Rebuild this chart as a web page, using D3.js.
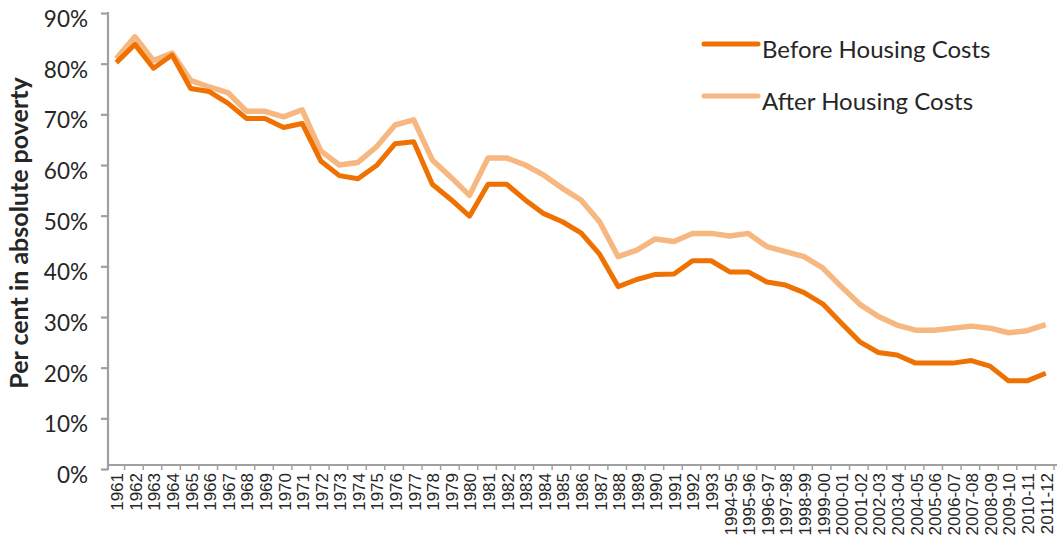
<!DOCTYPE html>
<html>
<head>
<meta charset="utf-8">
<script src="https://cdn.jsdelivr.net/npm/d3@7"></script>
<style>
  body { margin: 0; background: #fff; }
  svg text { fill: #262626; }
</style>
</head>
<body>
<div id="chart"></div>
<script>
// categories: survey years
var years = [
  "1961", "1962", "1963", "1964", "1965", "1966", "1967", "1968", "1969", "1970",
  "1971", "1972", "1973", "1974", "1975", "1976", "1977", "1978", "1979", "1980",
  "1981", "1982", "1983", "1984", "1985", "1986", "1987", "1988", "1989", "1990",
  "1991", "1992", "1993", "1994-95", "1995-96", "1996-97", "1997-98", "1998-99",
  "1999-00", "2000-01", "2001-02", "2002-03", "2003-04", "2004-05", "2005-06",
  "2006-07", "2007-08", "2008-09", "2009-10", "2010-11", "2011-12"
];

// per cent in absolute poverty, before housing costs
var beforeHousing = [
  80.2, 83.8, 79.1, 81.7, 75.1, 74.5, 72.2, 69.2, 69.2, 67.4,
  68.2, 60.8, 57.9, 57.3, 59.9, 64.2, 64.6, 56.2, 53.2, 49.9,
  56.2, 56.2, 53.1, 50.4, 48.8, 46.6, 42.4, 36.0, 37.4, 38.4,
  38.5, 41.1, 41.1, 38.9, 38.9, 36.9, 36.3, 34.8, 32.6, 28.8,
  25.1, 23.0, 22.5, 20.9, 20.9, 20.9, 21.4, 20.3, 17.4, 17.4, 18.9
];

// per cent in absolute poverty, after housing costs
var afterHousing = [
  81.0, 85.3, 80.6, 82.1, 76.7, 75.4, 74.3, 70.6, 70.6, 69.5,
  70.9, 62.8, 60.0, 60.5, 63.6, 67.9, 68.9, 61.0, 57.6, 54.0,
  61.4, 61.4, 60.0, 58.0, 55.4, 53.1, 48.8, 41.9, 43.2, 45.4,
  44.9, 46.5, 46.5, 46.0, 46.5, 43.9, 42.9, 41.9, 39.7, 36.0,
  32.5, 30.1, 28.4, 27.4, 27.4, 27.8, 28.2, 27.8, 26.9, 27.3, 28.5
];

var seriesNames = ["Before Housing Costs", "After Housing Costs"];
var seriesColors = ["#ef7102", "#f6b880"];
var yTicks = [0, 10, 20, 30, 40, 50, 60, 70, 80, 90];

var chartW = 1057, chartH = 548;
var plotLeft = 107, plotRight = 1055, plotTop = 13, plotBottom = 469;

var svg = d3.select("#chart").append("svg")
  .attr("width", chartW)
  .attr("height", chartH);

var x = d3.scaleBand()
  .domain(years)
  .range([plotLeft, plotRight]);

var y = d3.scaleLinear()
  .domain([0, 90])
  .range([plotBottom, plotTop]);

var axisColor = "#a0a0a0";

// y axis
var yAxis = svg.append("g")
  .attr("transform", "translate(" + (plotLeft + 1) + ",0)")
  .call(d3.axisLeft(y)
    .tickValues(yTicks)
    .tickSize(7)
    .tickPadding(13)
    .tickFormat(function(d) { return d + "%"; }));
yAxis.select(".domain").remove();
yAxis.selectAll(".tick line").attr("stroke", axisColor).attr("stroke-width", 2.2);
yAxis.selectAll(".tick text")
  .attr("dy", "0.6em")
  .style("font-family", "Lato, 'Open Sans', sans-serif")
  .style("font-size", "22.5px");
svg.append("line")
  .attr("x1", plotLeft + 1).attr("x2", plotLeft + 1)
  .attr("y1", y(90) - 1).attr("y2", y(0) + 1)
  .attr("stroke", axisColor).attr("stroke-width", 2.2);

// x axis line and boundary ticks
svg.append("line")
  .attr("x1", plotLeft).attr("x2", 1057)
  .attr("y1", y(0) - 4).attr("y2", y(0) - 4)
  .attr("stroke", axisColor).attr("stroke-width", 2.2);

var bounds = years.map(function(d) { return x(d); }).concat([x.range()[1]]);
svg.append("g").selectAll("line")
  .data(bounds.slice(1))
  .enter().append("line")
  .attr("x1", function(d) { return d - 1; })
  .attr("x2", function(d) { return d - 1; })
  .attr("y1", y(0) - 4)
  .attr("y2", y(0) + 1)
  .attr("stroke", axisColor)
  .attr("stroke-width", 1.5);

// x labels
var xAxis = svg.append("g")
  .attr("transform", "translate(0," + (y(0) - 4) + ")")
  .call(d3.axisBottom(x).tickSize(0));
xAxis.select(".domain").remove();
xAxis.selectAll(".tick text")
  .attr("transform", "rotate(-90)")
  .attr("x", -8)
  .attr("y", 1)
  .attr("dy", "0.35em")
  .style("text-anchor", "end")
  .style("font-family", "'Liberation Sans', Arial, sans-serif")
  .style("font-size", "17px");

// lines
var line = d3.line()
  .x(function(d, i) { return x(years[i]) + x.bandwidth() / 2; })
  .y(function(d) { return y(d); });

[afterHousing, beforeHousing].forEach(function(vals, k) {
  svg.append("path")
    .datum(vals)
    .attr("fill", "none")
    .attr("stroke", k === 0 ? seriesColors[1] : seriesColors[0])
    .attr("stroke-width", k === 0 ? 5.5 : 5)
    .attr("stroke-linejoin", "round")
    .attr("d", line);
});

// y title
svg.append("text")
  .attr("transform", "translate(28,233) rotate(-90)")
  .attr("text-anchor", "middle")
  .style("font-family", "Lato, 'Open Sans', sans-serif")
  .style("font-weight", "bold")
  .style("font-size", "25px")
  .text("Per cent in absolute poverty");

// legend
var legend = svg.append("g");
seriesNames.forEach(function(name, i) {
  var ly = 44 + i * 52;
  legend.append("line")
    .attr("x1", 704).attr("x2", 758)
    .attr("y1", ly).attr("y2", ly)
    .attr("stroke", seriesColors[i])
    .attr("stroke-width", 5)
    .attr("stroke-linecap", "round");
  legend.append("text")
    .attr("x", 762)
    .attr("y", ly + 14)
    .style("font-family", "Lato, 'Open Sans', sans-serif")
    .style("font-size", "24px")
    .text(name);
});
</script>
</body>
</html>
